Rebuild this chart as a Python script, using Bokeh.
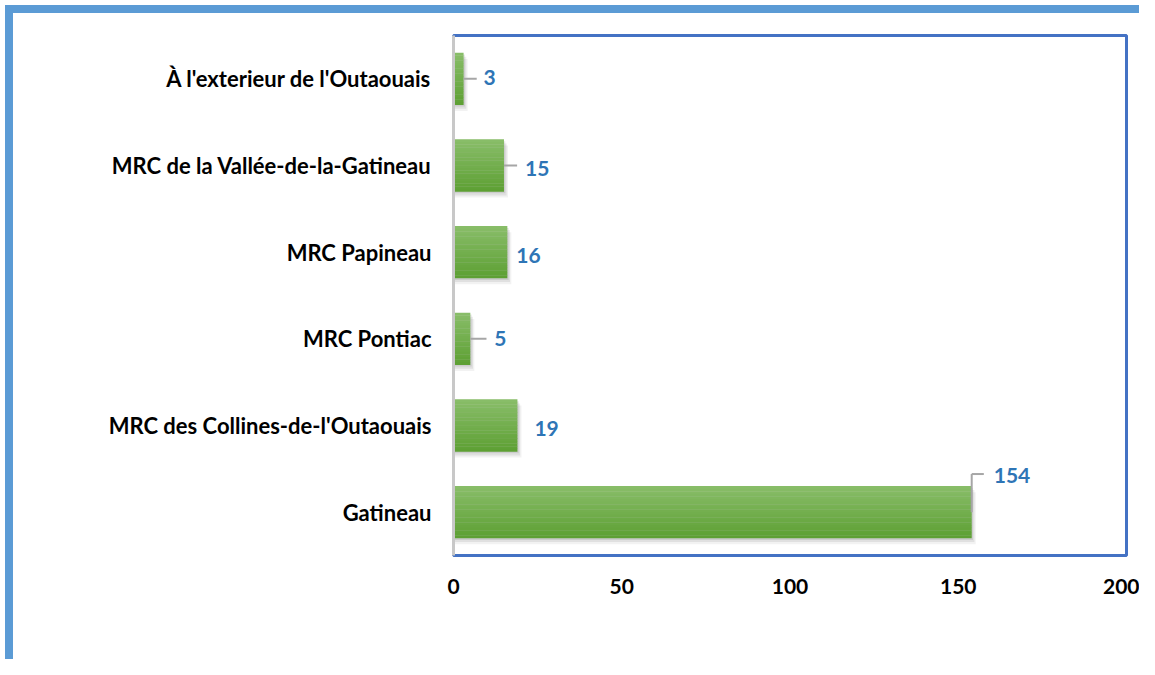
from bokeh.plotting import figure
from bokeh.models import FactorRange, Range1d, FixedTicker, ColumnDataSource, InlineStyleSheet
from bokeh.transform import dodge
from bokeh.core.properties import value
from bokeh.embed import file_html
from bokeh.resources import INLINE

# ---- data (bottom to top) ----
categories = [
    "Gatineau",
    "MRC des Collines-de-l'Outaouais",
    "MRC Pontiac",
    "MRC Papineau",
    "MRC de la Vallée-de-la-Gatineau",
    "À l'exterieur de l'Outaouais",
]
counts = [154, 19, 5, 16, 15, 3]
x_ticks = [0, 50, 100, 150, 200]

# ---- styling ----
FONT = "Lato"
CAT_SIZE = "22px"
NUM_SIZE = "21px"
BAR_H = 0.6
TOP_C = (0x88, 0xBD, 0x68)
BOT_C = (0x5E, 0xA0, 0x34)

# label offsets (px) and leader lengths (data units) per bar, same order as data
lab_dx = [22, 17, 24, 9, 21, 20]
lab_dy = [-37, 3, 0, 3, 3, -1]
leader_len = [0, 0, 4.8, 0, 3.9, 3.9]

frame_css = InlineStyleSheet(css="""
:host::before { content: ""; position: absolute; left: 5px; top: 5px; width: 8px; height: 654px;
                background: #5B9BD5; z-index: 5; pointer-events: none; }
:host::after  { content: ""; position: absolute; left: 5px; top: 5px; width: 1134px; height: 8px;
                background: #5B9BD5; z-index: 5; pointer-events: none; }
""")

p = figure(
    width=1139, height=659,
    y_range=FactorRange(factors=categories),
    x_range=Range1d(0, 200),
    output_backend="svg", toolbar_location=None,
    min_border_left=453, min_border_right=13,
    min_border_top=35, min_border_bottom=104,
    background_fill_color="white", border_fill_color="white",
    stylesheets=[frame_css],
)

src = ColumnDataSource(dict(
    cat=categories, cnt=counts,
    label=[str(c) for c in counts],
    dx=lab_dx, dy=lab_dy,
))

# shadow
for ddx, ddy, a in [(0.4, -0.02, 0.09), (0.8, -0.045, 0.07), (1.2, -0.07, 0.05)]:
    p.hbar(y=dodge("cat", ddy, range=p.y_range), left=0, right=dodge("cnt", ddx),
           height=BAR_H, source=src, fill_color="black", fill_alpha=a, line_color=None)

# gradient bars
N = 20
for i in range(N):
    t = i / (N - 1)
    col = "#%02x%02x%02x" % tuple(int(round(a + (b - a) * t)) for a, b in zip(TOP_C, BOT_C))
    off = BAR_H / 2 - (i + 0.5) * BAR_H / N
    p.hbar(y=dodge("cat", off, range=p.y_range), left=0, right="cnt",
           height=BAR_H / N * 1.1, source=src, fill_color=col, line_color=None)

# leader lines (horizontal)
lead_idx = [i for i, l in enumerate(leader_len) if l > 0]
lsrc = ColumnDataSource(dict(
    cat=[categories[i] for i in lead_idx],
    x0=[counts[i] for i in lead_idx],
    x1=[counts[i] + leader_len[i] for i in lead_idx],
))
p.segment(x0="x0", x1="x1", y0="cat", y1="cat", source=lsrc, line_color="#A6A6A6", line_width=2)

# elbow leader for the largest bar
big = counts.index(max(counts))
bsrc = ColumnDataSource(dict(cat=[categories[big]], x0=[counts[big]], x1=[counts[big] + 3.6]))
p.segment(x0="x0", x1="x0", y0=dodge("cat", 0.0, range=p.y_range), y1=dodge("cat", 0.44, range=p.y_range),
          source=bsrc, line_color="#A6A6A6", line_width=2)
p.segment(x0="x0", x1="x1", y0=dodge("cat", 0.44, range=p.y_range), y1=dodge("cat", 0.44, range=p.y_range),
          source=bsrc, line_color="#A6A6A6", line_width=2)

# value labels
p.text(x="cnt", y="cat", text="label", x_offset="dx", y_offset="dy", source=src,
       text_font=value(FONT), text_font_style="bold", text_font_size=NUM_SIZE,
       text_color="#2E75B6", text_align="left", text_baseline="middle")

# axes
p.xgrid.visible = False
p.ygrid.visible = False
p.xaxis.ticker = FixedTicker(ticks=x_ticks)
p.xaxis.axis_line_color = None
p.xaxis.major_tick_line_color = None
p.xaxis.minor_tick_line_color = None
p.xaxis.major_label_standoff = 17
p.xaxis.major_label_text_font_size = NUM_SIZE
p.yaxis.axis_line_color = "#C8C8C8"
p.yaxis.axis_line_width = 3
p.yaxis.major_tick_line_color = None
p.yaxis.minor_tick_line_color = None
p.yaxis.major_label_standoff = 16
p.yaxis.major_label_text_font_size = CAT_SIZE
for ax in (p.xaxis, p.yaxis):
    ax.major_label_text_font = FONT
    ax.major_label_text_font_style = "bold"
    ax.major_label_text_color = "black"

p.outline_line_color = "#4472C4"
p.outline_line_width = 3
p.outline_line_alpha = 1.0

open("out.html", "w").write(file_html(p, INLINE))
